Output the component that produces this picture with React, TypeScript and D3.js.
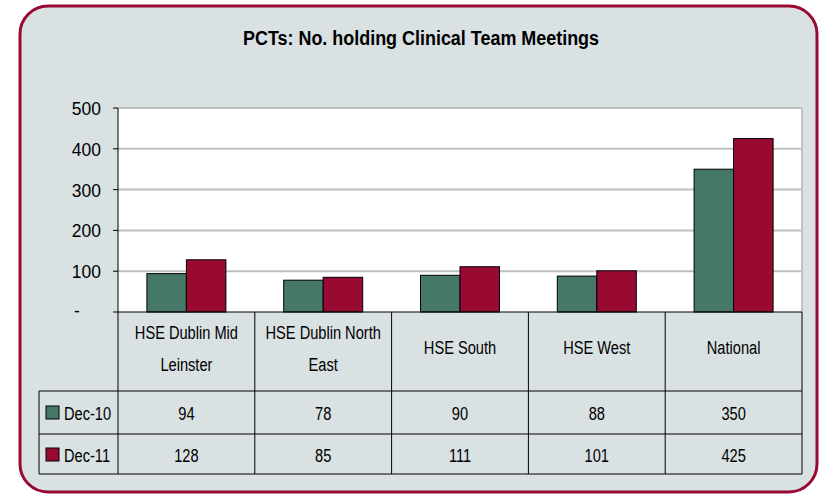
import React from "react";
import * as d3 from "d3";

const categories = [["HSE Dublin Mid", "Leinster"], ["HSE Dublin North", "East"], ["HSE South"], ["HSE West"], ["National"]];
const seriesNames = ["Dec-10", "Dec-11"];
const dec10 = [94, 78, 90, 88, 350];
const dec11 = [128, 85, 111, 101, 425];
const yTicks = [0, 100, 200, 300, 400, 500];
const colors = ["#467868", "#990a33"];

const W = 823, H = 495;
const left = 118, right = 802, top = 108, bottom = 312;
const rowHeader = 391, row1 = 434, row2 = 474, legendLeft = 39;
const FONT = "'Liberation Sans', Arial, sans-serif";

function T({ x, y, sx = 0.77, size = 19, anchor = "middle", bold = false, children }: any) {
  return (
    <text transform={`translate(${x},${y}) scale(${sx},1)`} textAnchor={anchor} fontSize={size}
      fontWeight={bold ? "bold" : "normal"} fill="#000">{children}</text>
  );
}

export default function App() {
  const x = d3.scaleBand<number>().domain(d3.range(categories.length)).range([left, right]);
  const y = d3.scaleLinear().domain([0, 500]).range([bottom, top]);
  const series = [dec10, dec11];
  const bw = 39.5;
  return (
    <svg width={W} height={H} style={{ position: "absolute", left: 0, top: 0 }} fontFamily={FONT}>
      <rect x={20} y={6} width={797} height={486} rx={28} ry={28} fill="#d9e1e3" stroke="#990a33" strokeWidth={3} />
      <T x={421} y={45} sx={0.855} size={21} bold>PCTs: No. holding Clinical Team Meetings</T>
      <rect x={left} y={top} width={right - left} height={bottom - top} fill="#fff" />
      {yTicks.map((t) => (
        <g key={t}>
          {t > 0 && <line x1={left} x2={right} y1={y(t)} y2={y(t)} stroke="#c0c0c0" strokeWidth={2} />}
          <line x1={left - 5} x2={left} y1={y(t)} y2={y(t)} stroke="#000" strokeWidth={1} />
          {t === 0
            ? <T x={74} y={y(t) + 5} sx={0.92} size={19} anchor="start">-</T>
            : <T x={101} y={y(t) + 7} sx={0.92} size={19} anchor="end">{t}</T>}
        </g>
      ))}
      <line x1={right} x2={right} y1={top} y2={bottom} stroke="#c0c0c0" strokeWidth={2} />
      {series.map((vals, s) =>
        vals.map((v, i) => (
          <rect key={`${s}-${i}`} x={x(i)! + x.bandwidth() / 2 - bw + s * bw} y={y(v)} width={bw} height={y(0) - y(v)}
            fill={colors[s]} stroke="#000" strokeWidth={1} />
        ))
      )}
      <line x1={left} x2={left} y1={top} y2={row2} stroke="#000" strokeWidth={1} />
      <line x1={left} x2={right} y1={bottom} y2={bottom} stroke="#000" strokeWidth={1} />
      <line x1={legendLeft} x2={right} y1={rowHeader} y2={rowHeader} stroke="#000" strokeWidth={1} />
      <line x1={legendLeft} x2={right} y1={row1} y2={row1} stroke="#000" strokeWidth={1} />
      <line x1={legendLeft} x2={right} y1={row2} y2={row2} stroke="#000" strokeWidth={1} />
      <line x1={legendLeft} x2={legendLeft} y1={rowHeader} y2={row2} stroke="#000" strokeWidth={1} />
      <line x1={right} x2={right} y1={bottom} y2={row2} stroke="#000" strokeWidth={1} />
      {categories.map((c, i) => {
        const cx = x(i)! + x.bandwidth() / 2;
        return (
          <g key={i}>
            {i > 0 && <line x1={x(i)!} x2={x(i)!} y1={bottom} y2={row2} stroke="#000" strokeWidth={1} />}
            {c.map((ln, k) => (
              <T key={k} x={cx} y={c.length === 1 ? 354 : 339 + k * 32}>{ln}</T>
            ))}
            <T x={cx} y={420}>{dec10[i]}</T>
            <T x={cx} y={462}>{dec11[i]}</T>
          </g>
        );
      })}
      {seriesNames.map((n, s) => (
        <g key={n}>
          <rect x={46} y={s === 0 ? 406 : 448} width={13} height={13} fill={colors[s]} stroke="#000" strokeWidth={1} />
          <T x={64} y={s === 0 ? 420 : 462} anchor="start">{n}</T>
        </g>
      ))}
    </svg>
  );
}
